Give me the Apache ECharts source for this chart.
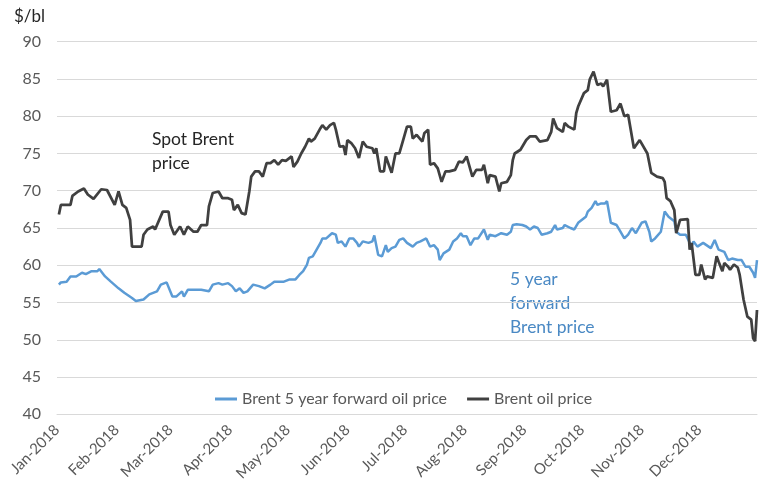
<!DOCTYPE html>
<html>
<head>
<meta charset="utf-8">
<script src="https://cdn.jsdelivr.net/npm/echarts@6/dist/echarts.min.js"></script>
<style>
html,body{margin:0;padding:0;background:#fff;}
#chart{width:761px;height:489px;}
</style>
</head>
<body>
<div id="chart"></div>
<script>
// Brent oil price (spot), 2018 — dates as MM-DD
const brentDays = ['01-02','01-03','01-05','01-08','01-09','01-12','01-15','01-17','01-20','01-24','01-27','01-31','02-02','02-04','02-06','02-08','02-09','02-14','02-15','02-17','02-20','02-21','02-25','02-28','03-01','03-03','03-06','03-08','03-10','03-13','03-15','03-17','03-20','03-21','03-23','03-26','03-28','03-31','04-02','04-03','04-05','04-07','04-09','04-11','04-12','04-14','04-16','04-18','04-20','04-22','04-24','04-26','04-28','04-30','05-03','05-04','05-06','05-08','05-10','05-12','05-13','05-15','05-18','05-19','05-21','05-23','05-25','05-26','05-28','05-30','05-31','06-01','06-03','06-05','06-07','06-09','06-11','06-14','06-15','06-16','06-18','06-20','06-21','06-24','06-26','06-28','06-30','07-02','07-04','07-05','07-07','07-10','07-11','07-13','07-14','07-16','07-18','07-20','07-22','07-24','07-27','07-29','07-31','08-02','08-05','08-07','08-10','08-11','08-13','08-14','08-17','08-19','08-20','08-23','08-25','08-26','08-27','08-30','09-02','09-04','09-07','09-09','09-10','09-13','09-15','09-16','09-18','09-21','09-22','09-24','09-27','09-28','09-29','09-30','10-02','10-04','10-05','10-07','10-09','10-11','10-12','10-14','10-16','10-19','10-21','10-23','10-25','10-28','10-31','11-01','11-04','11-06','11-09','11-12','11-13','11-14','11-16','11-18','11-19','11-21','11-22','11-25','11-26','11-27','11-29','12-01','12-02','12-04','12-05','12-08','12-10','12-11','12-13','12-14','12-16','12-17','12-19','12-21','12-22','12-24','12-26','12-28','12-29','12-30','12-31'];
const brentPrices = [66.8,68.1,68.1,68.1,69.3,69.9,70.3,69.5,68.9,70.2,70.1,68.1,69.9,68.1,67.7,66.1,62.5,62.5,64.1,64.8,65.2,64.8,67.2,67.2,65.4,64.1,65.2,64.1,65.2,64.5,64.5,65.4,65.4,67.9,69.7,69.9,69.0,69.0,68.8,67.4,68.1,67.0,66.8,69.9,71.9,72.6,72.6,71.9,73.7,73.7,74.1,73.5,74.1,74.0,74.6,73.2,73.9,75.0,75.9,77.0,76.6,77.0,78.4,78.8,78.2,78.8,79.1,78.2,75.9,76.0,74.8,76.8,76.4,75.7,74.4,76.6,75.9,75.7,75.0,75.7,72.6,72.6,74.6,72.4,75.0,75.0,76.8,78.6,78.6,77.0,77.5,76.6,77.7,78.2,73.5,73.7,73.0,71.2,72.6,72.6,72.8,73.9,73.8,74.6,71.9,72.8,72.8,73.5,71.0,72.1,71.9,69.9,71.0,71.2,72.1,74.1,75.0,75.5,76.8,77.3,77.3,76.6,76.4,76.8,77.9,79.7,78.4,77.9,79.1,78.6,78.2,80.4,81.3,81.5,83.1,83.5,84.9,86.0,84.2,84.4,84.0,84.9,80.6,80.8,81.7,80.0,80.2,75.7,76.8,77.0,75.0,72.4,71.9,71.7,71.2,69.0,68.6,67.4,64.3,66.1,66.2,66.2,62.1,63.0,58.7,58.7,60.1,58.1,58.5,58.3,61.2,60.5,59.2,60.3,59.8,59.4,60.1,59.7,58.7,55.4,53.1,52.7,50.2,49.8,54.0];

// Brent 5 year forward oil price, 2018
const forwardDays = ['01-02','01-03','01-06','01-08','01-11','01-14','01-16','01-19','01-22','01-23','01-26','01-29','02-02','02-05','02-09','02-11','02-15','02-18','02-22','02-24','02-27','03-02','03-04','03-07','03-08','03-10','03-14','03-17','03-21','03-23','03-26','03-28','03-31','04-02','04-04','04-06','04-08','04-10','04-13','04-16','04-19','04-22','04-24','04-27','04-29','05-02','05-05','05-07','05-09','05-11','05-12','05-14','05-16','05-18','05-19','05-21','05-24','05-26','05-27','05-29','05-31','06-02','06-04','06-06','06-07','06-09','06-12','06-14','06-15','06-17','06-19','06-21','06-22','06-24','06-26','06-28','06-30','07-02','07-05','07-07','07-09','07-12','07-14','07-16','07-18','07-19','07-21','07-24','07-26','07-28','07-30','07-31','08-02','08-04','08-06','08-08','08-11','08-13','08-14','08-17','08-20','08-23','08-25','08-26','08-28','08-31','09-02','09-04','09-06','09-08','09-10','09-13','09-15','09-17','09-18','09-21','09-22','09-25','09-27','09-29','10-01','10-03','10-04','10-06','10-08','10-09','10-11','10-13','10-14','10-16','10-19','10-21','10-23','10-25','10-27','10-29','11-01','11-03','11-05','11-06','11-08','11-11','11-13','11-15','11-18','11-19','11-21','11-24','11-27','11-28','11-30','12-03','12-04','12-07','12-09','12-11','12-14','12-16','12-18','12-21','12-23','12-25','12-27','12-29','12-30','12-31'];
const forwardPrices = [57.4,57.7,57.8,58.5,58.5,59.0,58.8,59.2,59.2,59.5,58.5,57.8,56.9,56.3,55.6,55.2,55.4,56.1,56.5,57.4,57.7,55.8,55.8,56.5,55.8,56.7,56.7,56.7,56.5,57.4,57.6,57.4,57.6,57.2,56.5,56.9,56.3,56.5,57.4,57.2,56.9,57.4,57.8,57.8,57.8,58.1,58.1,58.7,59.2,60.1,61.0,61.2,62.1,63.0,63.6,63.6,64.3,64.1,63.0,63.2,62.5,63.6,63.6,63.0,62.5,63.2,63.0,63.2,64.0,61.4,61.2,62.7,61.8,62.3,62.5,63.4,63.6,63.0,62.5,63.0,63.2,63.6,62.5,62.7,62.1,60.7,61.6,62.1,63.2,63.6,64.3,63.9,63.9,62.7,63.6,63.6,64.8,63.4,64.1,63.9,64.3,64.1,64.5,65.4,65.5,65.4,65.2,64.8,65.2,65.0,64.1,64.3,64.5,65.4,64.8,65.0,65.4,65.0,64.8,65.7,66.1,66.5,67.2,67.7,68.6,68.1,68.3,68.3,68.6,65.7,65.4,64.5,63.6,64.1,65.0,64.3,65.7,65.9,64.5,63.2,63.6,64.5,67.2,66.5,65.9,64.5,64.1,64.1,62.5,63.2,62.5,63.0,63.2,62.3,63.4,62.1,61.8,60.7,60.9,60.7,60.7,59.8,59.8,59.0,58.3,60.7];

const yTicks = {min: 40, max: 90, step: 5};
const monthNames = ['Jan','Feb','Mar','Apr','May','Jun','Jul','Aug','Sep','Oct','Nov','Dec'];

const FONT = 'Lato';
const chart = echarts.init(document.getElementById('chart'));

function zip(days, vals) {
  return days.map((d, i) => ['2018-' + d, vals[i]]);
}

const DAY = 24 * 3600 * 1000;

chart.setOption({
  animation: false,
  backgroundColor: '#ffffff',
  textStyle: {fontFamily: FONT},
  grid: {left: 57, right: 4, top: 41.7, bottom: 74.7, containLabel: false},
  legend: {
    left: 210, top: 386,
    icon: 'rect', itemWidth: 22, itemHeight: 3, itemGap: 20,
    textStyle: {color: '#595959', fontSize: 16, fontFamily: FONT},
    data: ['Brent 5 year forward oil price', 'Brent oil price']
  },
  xAxis: {
    type: 'time',
    min: '2018-01-01', max: '2018-12-31',
    minInterval: 28 * DAY, maxInterval: 31 * DAY,
    splitNumber: 12,
    axisLine: {show: true, lineStyle: {color: '#d9d9d9', width: 1}},
    axisTick: {show: false},
    splitLine: {show: false},
    axisLabel: {
      rotate: 45, margin: 13, color: '#595959', fontSize: 15, fontFamily: FONT,
      showMinLabel: true, showMaxLabel: false, hideOverlap: false,
      formatter: function (v) {
        const d = new Date(v);
        return monthNames[d.getMonth()] + '-' + d.getFullYear();
      }
    }
  },
  yAxis: {
    type: 'value', min: yTicks.min, max: yTicks.max, interval: yTicks.step,
    axisLine: {show: false}, axisTick: {show: false},
    splitLine: {lineStyle: {color: '#d9d9d9', width: 1}},
    axisLabel: {color: '#595959', fontSize: 16, margin: 16, fontFamily: FONT}
  },
  graphic: [
    {type: 'text', left: 14, top: 8, style: {text: '$/bl', fill: '#262626', font: '17px ' + FONT}},
    {type: 'text', left: 152, top: 127, style: {text: 'Spot Brent\nprice', fill: '#262626', font: '17.5px ' + FONT, lineHeight: 24}},
    {type: 'text', left: 510, top: 267, style: {text: '5 year\nforward\nBrent price', fill: '#4a89c4', font: '17.5px ' + FONT, lineHeight: 24}}
  ],
  series: [
    {
      name: 'Brent 5 year forward oil price', type: 'line', symbol: 'none',
      data: zip(forwardDays, forwardPrices),
      lineStyle: {color: '#5b9bd5', width: 2.5}, itemStyle: {color: '#5b9bd5'}, z: 2
    },
    {
      name: 'Brent oil price', type: 'line', symbol: 'none',
      data: zip(brentDays, brentPrices),
      lineStyle: {color: '#404040', width: 2.75}, itemStyle: {color: '#404040'}, z: 3
    }
  ]
});
</script>
</body>
</html>
